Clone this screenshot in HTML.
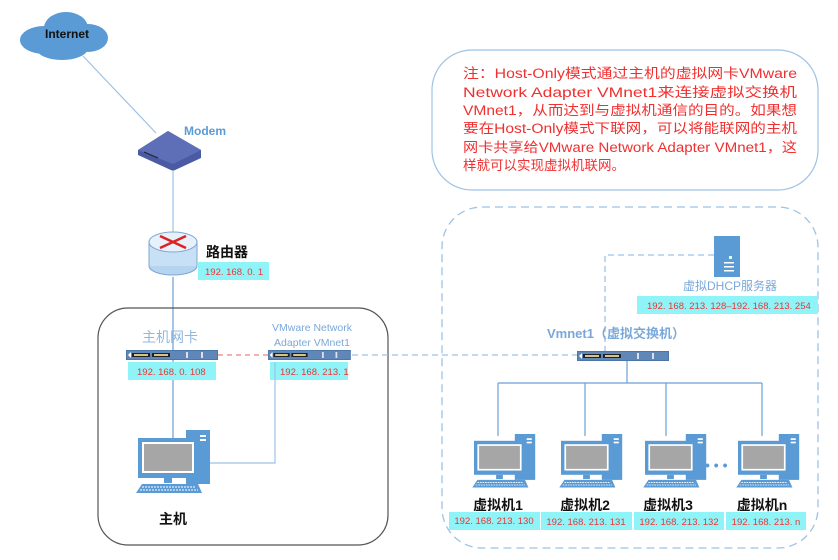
<!DOCTYPE html>
<html><head><meta charset="utf-8"><style>
html,body{margin:0;padding:0;background:#fff;}
svg{display:block;}
text{font-family:"Liberation Sans","Noto Sans CJK SC",sans-serif;}
</style></head><body>
<svg width="838" height="560" viewBox="0 0 838 560" xmlns="http://www.w3.org/2000/svg">
<defs>
<g id="pc">
  <rect x="48" y="0" width="24" height="54" fill="#5b9bd5"/>
  <rect x="62" y="5" width="6" height="2" fill="#fff"/>
  <rect x="62" y="9" width="6" height="2" fill="#fff"/>
  <rect x="0" y="8" width="60" height="40" fill="#5b9bd5"/>
  <rect x="4" y="12" width="52" height="31" fill="#fff"/>
  <rect x="6" y="14" width="48" height="27" fill="#a6a6a6"/>
  <rect x="26" y="48" width="8" height="5" fill="#5b9bd5"/>
  <polygon points="4,54 60,54 64,63 -2,63" fill="#5b9bd5"/>
  <line x1="4" y1="57" x2="58" y2="57" stroke="#fff" stroke-dasharray="2 1"/>
  <line x1="2" y1="60" x2="60" y2="60" stroke="#fff" stroke-dasharray="2 1"/>
</g>
<g id="bar">
  <rect x="0" y="0" width="92" height="10" fill="#4a76a8"/>
  <rect x="1" y="1" width="90" height="8" fill="#5f88b8"/>
  <rect x="6" y="3" width="18" height="4" fill="#222"/>
  <rect x="26" y="3" width="18" height="4" fill="#222"/>
  <rect x="8" y="4" width="14" height="2" fill="#d9c28a"/>
  <rect x="28" y="4" width="14" height="2" fill="#d9c28a"/>
  <rect x="60" y="2" width="2" height="6" fill="#dde"/>
  <rect x="75" y="2" width="2" height="6" fill="#dde"/>
  <polygon points="2,5 5,2 5,8" fill="#fff"/>
</g>
</defs>

<!-- cloud -->
<g fill="#5b9bd5">
  <ellipse cx="44" cy="40" rx="24" ry="14"/>
  <ellipse cx="66" cy="28" rx="22" ry="16"/>
  <ellipse cx="88" cy="38" rx="20" ry="14"/>
  <ellipse cx="62" cy="48" rx="26" ry="12"/>
</g>
<text x="67" y="38" font-size="12" font-weight="bold" text-anchor="middle" fill="#111">Internet</text>
<line x1="83" y1="56" x2="156" y2="133" stroke="#9dc3e6" stroke-width="1.2"/>

<!-- modem -->
<polygon points="138,150 168,131 201,150 201,158 173,171 138,155" fill="#4b5ba3"/>
<polygon points="138,150 168,131 201,150 173,164" fill="#5e6fb8"/>
<line x1="144" y1="152" x2="158" y2="158" stroke="#222" stroke-width="1"/>
<text x="184" y="135" font-size="12" font-weight="bold" fill="#5b9bd5">Modem</text>
<line x1="173" y1="170" x2="173" y2="232" stroke="#9dc3e6" stroke-width="1.2"/>

<!-- router -->
<ellipse cx="173" cy="266" rx="24" ry="9" fill="#b4d4f0" stroke="#7fa7d0"/>
<rect x="149" y="242" width="48" height="24" fill="#c8e0f6"/>
<line x1="149" y1="242" x2="149" y2="266" stroke="#7fa7d0"/>
<line x1="197" y1="242" x2="197" y2="266" stroke="#7fa7d0"/>
<ellipse cx="173" cy="242" rx="24" ry="10" fill="#e6f1fb" stroke="#7fa7d0"/>
<g stroke="#d22" stroke-width="2.5">
  <line x1="160" y1="236" x2="186" y2="248"/>
  <line x1="160" y1="248" x2="186" y2="236"/>
</g>
<text x="206" y="257" font-size="14" font-weight="bold" fill="#111">路由器</text>
<rect x="198" y="262" width="71" height="18" fill="#8ff4f8"/>
<text x="205" y="275" font-size="9.5" fill="#e33">192. 168. 0. 1</text>

<line x1="173" y1="277" x2="173" y2="442" stroke="#6a9fd5" stroke-width="1.2"/>

<!-- host box -->
<rect x="98" y="308" width="290" height="237" rx="30" fill="none" stroke="#555" stroke-width="1.2"/>
<text x="142" y="342" font-size="14" fill="#8fb8e0">主机网卡</text>
<text x="312" y="331" font-size="10.5" fill="#7aa8d8" text-anchor="middle">VMware Network</text>
<text x="312" y="346" font-size="10.5" fill="#7aa8d8" text-anchor="middle">Adapter VMnet1</text>
<use href="#bar" x="126" y="350"/>
<use href="#bar" x="268" y="350" transform="translate(268,350) scale(0.9,1) translate(-268,-350)"/>
<rect x="128" y="362" width="88" height="18" fill="#8ff4f8"/>
<text x="137" y="375" font-size="9.5" fill="#e33">192. 168. 0. 108</text>
<rect x="270" y="362" width="78" height="18" fill="#8ff4f8"/>
<text x="280" y="375" font-size="9.5" fill="#e33">192. 168. 213. 1</text>
<line x1="218" y1="355" x2="268" y2="355" stroke="#f08080" stroke-width="1.3" stroke-dasharray="5 4"/>
<line x1="352" y1="355" x2="578" y2="355" stroke="#9dc3e6" stroke-width="1.3" stroke-dasharray="6 4"/>
<use href="#pc" x="138" y="430"/>
<polyline points="210,463 275,463 275,362" fill="none" stroke="#9dc3e6" stroke-width="1.2"/>
<text x="173" y="524" font-size="14" font-weight="bold" fill="#111" text-anchor="middle">主机</text>

<!-- note box -->
<rect x="432" y="50" width="386" height="140" rx="40" fill="none" stroke="#9dc3e6" stroke-width="1.2"/>
<g font-size="13.5" fill="#f03030">
<text x="463" y="78" textLength="334" lengthAdjust="spacingAndGlyphs">注：Host-Only模式通过主机的虚拟网卡VMware</text>
<text x="463" y="97" textLength="334" lengthAdjust="spacingAndGlyphs">Network Adapter VMnet1来连接虚拟交换机</text>
<text x="463" y="115" textLength="334" lengthAdjust="spacingAndGlyphs">VMnet1，从而达到与虚拟机通信的目的。如果想</text>
<text x="463" y="133" textLength="334" lengthAdjust="spacingAndGlyphs">要在Host-Only模式下联网，可以将能联网的主机</text>
<text x="463" y="152" textLength="334" lengthAdjust="spacingAndGlyphs">网卡共享给VMware Network Adapter VMnet1，这</text>
<text x="463" y="170">样就可以实现虚拟机联网。</text>
</g>

<!-- VM dashed box -->
<rect x="442" y="207" width="376" height="341" rx="40" fill="none" stroke="#9dc3e6" stroke-width="1.3" stroke-dasharray="8 5"/>
<!-- DHCP server -->
<rect x="714" y="236" width="26" height="41" fill="#5b9bd5"/>
<rect x="729" y="256" width="3" height="3" fill="#dfe"/>
<rect x="724" y="262" width="10" height="1.5" fill="#fff"/>
<rect x="724" y="266" width="10" height="1.5" fill="#fff"/>
<rect x="724" y="270" width="10" height="1.5" fill="#fff"/>
<polyline points="714,255 605,255 605,352" fill="none" stroke="#9dc3e6" stroke-width="1.3" stroke-dasharray="6 4"/>
<text x="683" y="290" font-size="12" fill="#7aa8d8">虚拟DHCP服务器</text>
<rect x="637" y="296" width="181" height="18" fill="#8ff4f8"/>
<text x="647" y="309" font-size="9.5" fill="#e33">192. 168. 213. 128–192. 168. 213. 254</text>
<text x="547" y="338" font-size="13" font-weight="bold" fill="#7aa8d8">Vmnet1（虚拟交换机）</text>
<use href="#bar" x="577" y="351"/>
<g stroke="#6a9fd5" stroke-width="1.2" fill="none">
<line x1="627" y1="361" x2="627" y2="383"/>
<line x1="498" y1="383" x2="762" y2="383"/>
<line x1="498" y1="383" x2="498" y2="436"/>
<line x1="585" y1="383" x2="585" y2="436"/>
<line x1="666" y1="383" x2="666" y2="436"/>
<line x1="762" y1="383" x2="762" y2="436"/>
</g>
<use href="#pc" x="474" y="434" transform="translate(474,434) scale(0.85) translate(-474,-434)"/>
<use href="#pc" x="561" y="434" transform="translate(561,434) scale(0.85) translate(-561,-434)"/>
<use href="#pc" x="645" y="434" transform="translate(645,434) scale(0.85) translate(-645,-434)"/>
<use href="#pc" x="738" y="434" transform="translate(738,434) scale(0.85) translate(-738,-434)"/>
<text x="705" y="470" font-size="14" fill="#5b9bd5" font-weight="bold">• • •</text>
<g font-size="14" font-weight="bold" fill="#111" text-anchor="middle">
<text x="498" y="510">虚拟机1</text>
<text x="585" y="510">虚拟机2</text>
<text x="668" y="510">虚拟机3</text>
<text x="762" y="510">虚拟机n</text>
</g>
<g fill="#8ff4f8">
<rect x="449" y="512" width="91" height="18"/>
<rect x="541" y="512" width="91" height="18"/>
<rect x="634" y="512" width="90" height="18"/>
<rect x="726" y="512" width="80" height="18"/>
</g>
<g font-size="9.5" fill="#e33" text-anchor="middle">
<text x="494" y="524">192. 168. 213. 130</text>
<text x="586" y="525">192. 168. 213. 131</text>
<text x="679" y="525">192. 168. 213. 132</text>
<text x="766" y="525">192. 168. 213. n</text>
</g>
</svg>
</body></html>
